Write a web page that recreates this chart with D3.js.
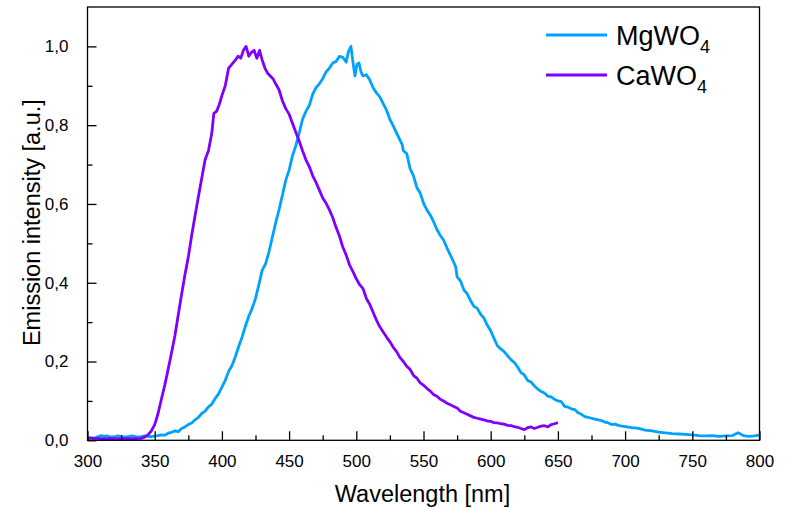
<!DOCTYPE html>
<html>
<head>
<meta charset="utf-8">
<script src="https://cdn.jsdelivr.net/npm/d3@7"></script>
<style>
html,body{margin:0;padding:0;background:#fff;}
svg{display:block;font-family:"Liberation Sans",Arial,sans-serif;}
</style>
</head>
<body>
<svg id="chart" width="787" height="508"></svg>
<script>
const mgWavelength = [300,302.5,305,307.5,310,312.5,315,317.5,320,322.5,325,327.5,330,332.5,335,337.5,340,342.5,345,347.5,350,352.5,355,357.5,360,362.5,365,367.5,370,372.5,375,377.5,380,382.5,385,387.5,390,392.5,395,397.5,400,402.5,405,407.5,410,412.5,415,417.5,420,422.5,425,427.5,430,432.5,435,437.5,440,442.5,445,447.5,450,452.5,455,457.5,460,462.5,465,467.5,470,472.5,475,477.5,480,482.5,485,487.5,490,492.5,494,496,497.5,499,500.5,502,503.5,505,507.5,510,512.5,515,517.5,520,522.5,525,527.5,530,532.5,534,535,537.5,540,542.5,545,547.5,550,552.5,555,557.5,560,562.5,565,567.5,570,572.5,574,575,577.5,580,582.5,585,587.5,590,592.5,595,597.5,600,602.5,605,607.5,610,612.5,615,617.5,620,622.5,625,627.5,630,632.5,635,637.5,640,642.5,645,647.5,650,652.5,655,657.5,660,662.5,665,667.5,670,672.5,675,677.5,680,682.5,685,687.5,690,692.5,695,697.5,700,705,710,715,720,725,730,735,740,745,750,755,760,765,770,775,780,784,788,792,796,800];
const mgIntensity = [.004,.006,.005,.009,.012,.010,.011,.008,.009,.011,.010,.008,.009,.011,.010,.008,.009,.011,.010,.009,.011,.012,.014,.013,.018,.020,.024,.022,.030,.034,.040,.044,.052,.058,.068,.074,.085,.092,.106,.118,.135,.152,.175,.190,.212,.238,.262,.290,.315,.335,.360,.395,.432,.448,.478,.515,.552,.585,.622,.660,.686,.722,.748,.780,.815,.835,.850,.878,.895,.905,.918,.935,.945,.958,.962,.975,.972,.960,.985,1.0,.960,.925,.955,.958,.935,.925,.928,.915,.895,.882,.872,.855,.838,.815,.798,.780,.762,.752,.735,.728,.690,.672,.642,.628,.602,.585,.572,.555,.535,.520,.508,.488,.470,.452,.440,.415,.405,.382,.372,.355,.340,.335,.320,.310,.292,.278,.258,.240,.232,.225,.215,.205,.198,.186,.172,.166,.152,.148,.138,.130,.124,.120,.112,.110,.104,.100,.098,.086,.084,.080,.078,.070,.066,.060,.058,.056,.054,.052,.050,.046,.044,.040,.041,.038,.036,.035,.032,.030,.026,.024,.021,.019,.017,.016,.015,.014,.012,.011,.012,.010,.011,.012,.019,.012,.010,.011,.013];

const caWavelength = [300,305,310,315,320,325,330,335,340,342.5,345,347.5,350,352.5,355,357.5,360,362.5,365,367.5,370,372.5,375,377.5,380,382.5,385,387.5,390,392.5,394,396,398,400,402.5,405,407.5,410,412,414,416,418,420,422,424,426,428,430,432,434,436,438,440,442.5,445,447.5,450,452.5,455,457.5,460,462.5,465,467.5,470,472.5,475,477.5,480,482.5,485,487.5,490,492.5,495,497.5,500,502.5,505,507.5,510,512.5,515,517.5,520,522.5,525,527.5,530,532.5,535,537.5,540,542.5,545,547.5,550,552.5,555,557.5,560,562.5,565,567.5,570,572.5,575,577.5,580,582.5,585,587.5,590,592.5,595,597.5,600,602.5,605,607.5,610,612.5,615,617.5,620,622.5,625,627.5,630,632.5,635,637.5,640,642.5,645,647.5,650];
const caIntensity = [.006,.005,.004,.004,.004,.004,.004,.004,.005,.008,.014,.024,.040,.068,.105,.140,.180,.222,.265,.318,.370,.420,.465,.520,.570,.618,.665,.712,.735,.780,.830,.835,.852,.875,.900,.945,.955,.965,.975,.970,.990,1.0,.975,.985,.990,.970,.990,.965,.945,.932,.925,.918,.905,.890,.862,.842,.828,.805,.782,.760,.735,.712,.695,.672,.655,.635,.615,.602,.585,.565,.540,.518,.490,.470,.445,.428,.410,.395,.385,.360,.345,.325,.305,.288,.275,.262,.250,.236,.225,.210,.200,.188,.180,.165,.158,.146,.140,.132,.125,.116,.112,.104,.100,.094,.090,.086,.082,.074,.070,.066,.062,.058,.056,.054,.052,.049,.048,.045,.044,.042,.041,.038,.037,.035,.033,.030,.027,.032,.034,.030,.033,.036,.037,.034,.040,.042,.045];

const seriesNames = ["MgWO", "CaWO"];
const seriesColors = ["#00A2FF", "#7F00FF"];
const xTicks = [300,350,400,450,500,550,600,650,700,750,800];
const yTicks = [0,0.2,0.4,0.6,0.8,1.0];

const svg = d3.select("#chart");
const L = 87.5, R = 759.5, T = 7, B = 440.3;
const x = d3.scaleLinear().domain([300, 800]).range([L, R]);
const y = d3.scaleLinear().domain([0, 1.1]).range([B, T]);

const series = [
  {name: seriesNames[0], color: seriesColors[0], xs: mgWavelength, ys: mgIntensity},
  {name: seriesNames[1], color: seriesColors[1], xs: caWavelength, ys: caIntensity}
];

svg.append("clipPath").attr("id","clip").append("rect")
  .attr("x", L).attr("y", T).attr("width", R - L).attr("height", B - T);

const line = d3.line().x(d => x(d[0])).y(d => y(d[1]));
const plot = svg.append("g").attr("clip-path","url(#clip)");
series.forEach(s => {
  plot.append("path")
    .datum(s.xs.map((v,i) => [v, s.ys[i]]))
    .attr("fill","none")
    .attr("stroke", s.color)
    .attr("stroke-width", 2.8)
    .attr("stroke-linejoin","round")
    .attr("d", line);
});

const fmtY = d => d3.format(".1f")(d).replace(".", ",");
const xAxis = d3.axisBottom(x).tickValues(xTicks).tickSize(-9).tickPadding(15).tickFormat(d3.format("d"));
const xMinor = d3.axisBottom(x).tickValues(d3.range(325, 800, 50)).tickSize(-5).tickFormat("");
const yAxis = d3.axisLeft(y).tickValues(yTicks).tickSize(-9).tickPadding(19).tickFormat(fmtY);
const yMinor = d3.axisLeft(y).tickValues([0.1,0.3,0.5,0.7,0.9]).tickSize(-5).tickFormat("");

function styleAxis(g){
  g.select(".domain").remove();
  g.selectAll(".tick line").attr("stroke","#000").attr("stroke-width",1.3);
  g.selectAll(".tick text").attr("fill","#000").attr("font-size","17px")
    .attr("font-family",'"Liberation Sans",Arial,sans-serif');
}
svg.append("g").attr("transform",`translate(0,${B})`).call(xAxis).call(styleAxis);
svg.append("g").attr("transform",`translate(0,${B})`).call(xMinor).call(styleAxis);
svg.append("g").attr("transform",`translate(${L},0)`).call(yAxis).call(styleAxis);
svg.append("g").attr("transform",`translate(${L},0)`).call(yMinor).call(styleAxis);

svg.append("rect").attr("x", L).attr("y", T).attr("width", R - L).attr("height", B - T)
  .attr("fill","none").attr("stroke","#000").attr("stroke-width",1.3);

svg.append("text").attr("x", (L + R) / 2 - 1).attr("y", 502)
  .attr("text-anchor","middle").attr("font-size","23.5px").attr("fill","#000")
  .text("Wavelength [nm]");
svg.append("text").attr("transform", `translate(40,${(T + B) / 2 - 1}) rotate(-90)`)
  .attr("text-anchor","middle").attr("font-size","23.5px").attr("fill","#000")
  .text("Emission intensity [a.u.]");

const legend = svg.append("g");
series.forEach((s, i) => {
  const ly = 35 + i * 40;
  legend.append("line").attr("x1", 546).attr("x2", 607).attr("y1", ly).attr("y2", ly)
    .attr("stroke", s.color).attr("stroke-width", 3);
  const t = legend.append("text").attr("x", 616).attr("y", ly + 10)
    .attr("font-size","27px").attr("fill","#000");
  t.append("tspan").text(s.name);
  t.append("tspan").attr("font-size","18px").attr("dy", 8).text("4");
});
</script>
</body>
</html>
